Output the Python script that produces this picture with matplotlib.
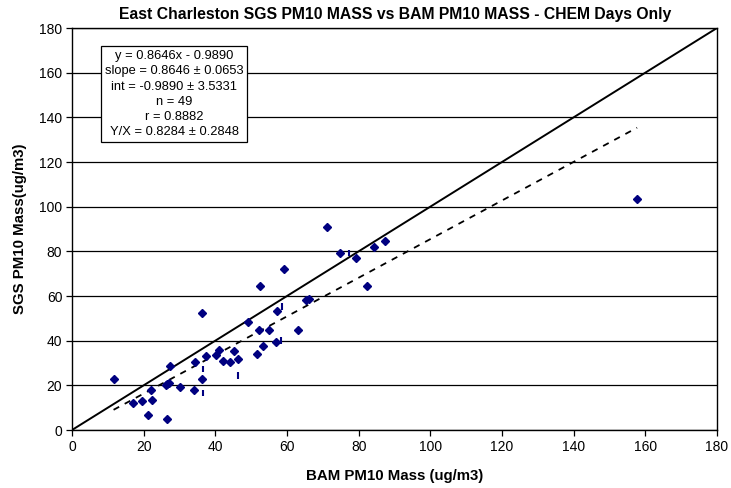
import matplotlib.pyplot as plt
import numpy as np

plt.rcParams['font.family'] = ['Liberation Sans', 'DejaVu Sans']

# BAM (x) vs SGS (y) PM10 mass
bam = [11.6, 17.0, 19.4, 21.1, 22.1, 22.2, 26.1, 26.5, 27.1, 26.5,
       27.3, 30.1, 34.0, 34.2, 36.3, 36.3, 37.5, 40.1, 41.0, 42.1,
       44.2, 45.2, 46.3, 49.2, 51.7, 52.2, 52.6, 53.4, 55.1, 56.8,
       57.2, 59.1, 63.2, 65.3, 66.2, 71.2, 74.7, 79.3, 82.2, 84.4,
       87.3, 157.7]
sgs = [22.9, 12.0, 13.0, 6.7, 18.0, 13.3, 20.2, 20.5, 21.2, 5.1,
       28.7, 19.3, 17.8, 30.4, 22.8, 52.5, 33.1, 33.5, 35.9, 31.0,
       30.4, 35.5, 32.0, 48.3, 34.0, 44.7, 64.6, 37.4, 45.0, 39.5,
       53.1, 71.9, 44.6, 58.3, 58.8, 91.0, 79.1, 77.2, 64.6, 82.0,
       84.7, 103.5]

# small stray vertical bar fragments visible in the chart
bar_x = [58.6, 58.3, 36.5, 46.4, 36.5, 77.4]
bar_y = [55.3, 40.1, 27.2, 24.4, 16.5, 79.3]

slope = 0.8646
intercept = -0.9890
stats = ["y = 0.8646x - 0.9890",
         "slope = 0.8646 \u00b1 0.0653",
         "int = -0.9890 \u00b1 3.5331",
         "n = 49",
         "r = 0.8882",
         "Y/X = 0.8284 \u00b1 0.2848"]

fig = plt.figure(figsize=(7.31, 4.88), dpi=100)
ax = fig.add_axes([72 / 731, 1 - 430 / 488, 645 / 731, 402 / 488])

ax.set_xlim(0, 180)
ax.set_ylim(0, 180)
ax.set_xticks(np.arange(0, 181, 20))
ax.set_yticks(np.arange(0, 181, 20))
ax.grid(axis='y', color='black', linewidth=0.9)
ax.set_axisbelow(True)

# 1:1 line
ax.plot([0, 180], [0, 180], color='black', linewidth=1.4)

# regression line
fx = np.array([min(bam), max(bam)])
ax.plot(fx, slope * fx + intercept, color='black', linewidth=1.3,
        linestyle=(0, (3.5, 3.5)))

by = np.array(bar_y)
ax.vlines(bar_x, by - 1.4, by + 1.4, color='#000080', linewidth=1.5)

ax.plot(bam, sgs, linestyle='none', marker='D', markersize=4.3,
        color='#000080')

ax.text(28.5, 150.3, "\n".join(stats), ha='center', va='center',
        fontsize=9.3, linespacing=1.36,
        bbox=dict(boxstyle='square,pad=0.3', facecolor='white',
                  edgecolor='black', linewidth=0.9))

for s in ax.spines.values():
    s.set_color('black')
    s.set_linewidth(1.0)
ax.tick_params(direction='out', length=4, width=0.9, labelsize=10,
               colors='black', pad=3)

ax.set_xlabel("BAM PM10 Mass (ug/m3)", fontsize=10.8, fontweight='bold',
              labelpad=11)
ax.set_ylabel("SGS PM10 Mass(ug/m3)", fontsize=10.8, fontweight='bold',
              labelpad=9)
fig.text(395 / 731, 1 - 14 / 488,
         "East Charleston SGS PM10 MASS vs BAM PM10 MASS - CHEM Days Only",
         ha='center', va='center', fontsize=11.3, fontweight='bold')

fig.savefig("out.png", dpi=100)
